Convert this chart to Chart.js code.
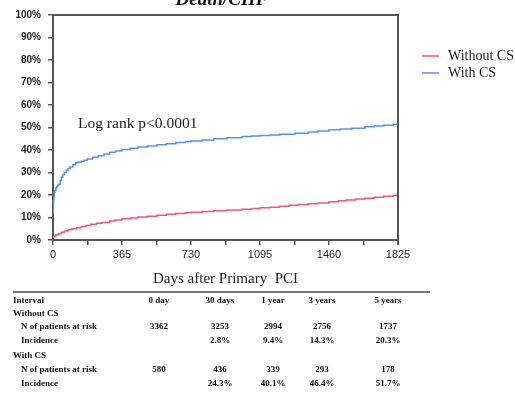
<!DOCTYPE html>
<html>
<head>
<meta charset="utf-8">
<script src="https://cdn.jsdelivr.net/npm/chart.js@4/dist/chart.umd.min.js"></script>
<style>
  body { margin: 0; background: #fff; }
  #wrap { position: relative; width: 515px; height: 393px; overflow: hidden; }
  #km { position: absolute; left: 0; top: 0; }
  .rule { position: absolute; left: 13px; top: 291px; width: 417px; height: 2px; background: #7a7a7a; }
  .t { position: absolute; font: bold 9px "Liberation Serif", serif; color: #111; white-space: nowrap; }
  .c { transform: translateX(-50%); }
</style>
</head>
<body>
<div id="wrap">
  <canvas id="km" width="515" height="292"></canvas>
  <div class="rule"></div>
  <div id="tbl"></div>
</div>
<script>
// cumulative incidence, %
const days_without = [0, 3, 8, 15, 22, 30, 45, 60, 80, 100, 125, 150, 175, 200, 230, 260, 300, 330, 365, 410, 450, 500, 550, 600, 650, 700, 730, 790, 850, 920, 1000, 1050, 1095, 1150, 1200, 1250, 1300, 1350, 1400, 1460, 1510, 1550, 1600, 1650, 1700, 1750, 1800, 1825];
const inc_without = [1.0, 1.4, 1.8, 2.2, 2.5, 2.8, 3.4, 4.0, 4.6, 5.0, 5.5, 6.0, 6.5, 7.0, 7.4, 7.8, 8.5, 8.9, 9.4, 9.8, 10.2, 10.6, 11.0, 11.4, 11.8, 12.1, 12.3, 12.7, 13.0, 13.3, 13.7, 14.0, 14.3, 14.6, 15.0, 15.4, 15.8, 16.1, 16.5, 17.0, 17.4, 17.8, 18.2, 18.6, 19.0, 19.5, 19.9, 20.3];
const days_with = [0, 1, 2, 3, 5, 7, 10, 15, 20, 25, 30, 38, 45, 52, 60, 70, 80, 90, 105, 120, 135, 150, 165, 180, 210, 240, 270, 300, 330, 365, 410, 450, 500, 550, 600, 650, 700, 730, 790, 850, 920, 1000, 1050, 1095, 1150, 1200, 1280, 1350, 1400, 1460, 1520, 1580, 1650, 1700, 1750, 1800, 1825];
const inc_with = [12.0, 14.5, 16.5, 18.0, 19.5, 21.0, 22.0, 23.0, 23.8, 24.3, 24.8, 26.5, 28.0, 29.0, 30.0, 31.0, 31.8, 32.5, 33.5, 34.3, 34.7, 35.0, 35.5, 36.0, 36.8, 37.5, 38.2, 39.0, 39.6, 40.2, 40.8, 41.3, 41.8, 42.3, 42.8, 43.3, 43.7, 44.0, 44.5, 45.0, 45.5, 46.0, 46.2, 46.4, 46.7, 47.0, 47.5, 48.0, 48.5, 49.0, 49.3, 49.7, 50.3, 50.7, 51.0, 51.4, 51.7];

const series_names = ["Without CS", "With CS"];
const series_colors = ["#f2557a", "#5b8ff0"];
const x_ticks = [0, 365, 730, 1095, 1460, 1825];

// risk table
const intervals = ["0 day", "30 days", "1 year", "3 years", "5 years"];
const risk_without = ["3362", "3253", "2994", "2756", "1737"];
const incid_without = ["", "2.8%", "9.4%", "14.3%", "20.3%"];
const risk_with = ["580", "436", "339", "293", "178"];
const incid_with = ["", "24.3%", "40.1%", "46.4%", "51.7%"];

function pts(xs, ys) {
  return xs.map((d, i) => ({ x: d, y: ys[i] }));
}

const extras = {
  id: "extras",
  afterDraw(chart) {
    const ctx = chart.ctx;
    const a = chart.chartArea;
    ctx.save();
    // top and right frame
    ctx.strokeStyle = "#555";
    ctx.lineWidth = 2;
    ctx.beginPath();
    ctx.moveTo(a.left, a.top);
    ctx.lineTo(a.right, a.top);
    ctx.lineTo(a.right, a.bottom + 5);
    ctx.stroke();
    // title, clipped at the top
    ctx.fillStyle = "#111";
    ctx.font = "bold italic 19px 'Liberation Serif', serif";
    ctx.textAlign = "center";
    ctx.textBaseline = "alphabetic";
    ctx.fillText("Death/CHF", 222, 5);
    // log rank text
    ctx.font = "15.5px 'Liberation Serif', serif";
    ctx.textAlign = "left";
    ctx.textBaseline = "middle";
    ctx.fillStyle = "#222";
    ctx.fillText("Log rank p<0.0001", 78, 124);
    // legend
    ctx.font = "14px 'Liberation Serif', serif";
    chart.data.datasets.forEach((ds, i) => {
      const y = 56 + i * 17;
      ctx.strokeStyle = ds.borderColor;
      ctx.lineWidth = 1.5;
      ctx.beginPath();
      ctx.moveTo(422, y);
      ctx.lineTo(439, y);
      ctx.stroke();
      ctx.fillStyle = "#222";
      ctx.fillText(ds.label, 448, y);
    });
    ctx.restore();
  }
};

const km_chart = new Chart(document.getElementById("km"), {
  type: "line",
  data: {
    datasets: [
      { label: series_names[0], data: pts(days_without, inc_without), borderColor: series_colors[0] },
      { label: series_names[1], data: pts(days_with, inc_with), borderColor: series_colors[1] },
    ],
  },
  options: {
    responsive: false,
    animation: false,
    layout: { padding: { top: 15, right: 117, left: 0, bottom: 0 } },
    elements: {
      line: { borderWidth: 1.5, stepped: true, fill: false },
      point: { radius: 0 },
    },
    plugins: {
      legend: { display: false },
      tooltip: { enabled: false },
    },
    scales: {
      x: {
        type: "linear",
        min: 0,
        max: 1825,
        afterFit: (s) => { s.height = 52; },
        afterBuildTicks: (s) => {
          s.ticks = [];
          for (let k = 0; k <= 10; k++) s.ticks.push({ value: k * 182.5 });
        },
        ticks: {
          autoSkip: false,
          maxRotation: 0,
          padding: 3,
          color: "#222",
          font: { family: "'Liberation Sans', Arial, sans-serif", size: 11 },
          callback: (v) => (x_ticks.includes(v) ? String(v) : ""),
        },
        grid: { drawOnChartArea: false, tickLength: 5, color: "#555", lineWidth: 1.5 },
        border: { color: "#555", width: 2 },
        title: {
          display: true,
          text: "Days after Primary  PCI",
          color: "#222",
          font: { family: "'Liberation Serif', serif", size: 15 },
          padding: { top: 0, bottom: 4 },
        },
      },
      y: {
        min: 0,
        max: 100,
        afterFit: (s) => { s.width = 53; },
        ticks: {
          stepSize: 10,
          padding: 7,
          color: "#222",
          font: { family: "'Liberation Sans', Arial, sans-serif", size: 10, weight: "bold" },
          callback: (v) => v + "%",
        },
        grid: { drawOnChartArea: false, tickLength: 5, color: "#555", lineWidth: 1.5 },
        border: { color: "#555", width: 2 },
      },
    },
  },
  plugins: [extras],
});

// risk table below the chart
const tbl = document.getElementById("tbl");
const col_x = [159, 220, 273, 322, 388];
function put(text, x, y, center) {
  const d = document.createElement("div");
  d.className = center ? "t c" : "t";
  d.textContent = text;
  d.style.left = x + "px";
  d.style.top = (y - 6) + "px";
  tbl.appendChild(d);
}
put("Interval", 13, 301);
intervals.forEach((s, i) => put(s, col_x[i], 301, true));
put("Without CS", 13, 314);
put("N of patients at risk", 21, 327);
risk_without.forEach((s, i) => put(s, col_x[i], 327, true));
put("Incidence", 21, 341);
incid_without.forEach((s, i) => put(s, col_x[i], 341, true));
put("With CS", 13, 356);
put("N of patients at risk", 21, 370);
risk_with.forEach((s, i) => put(s, col_x[i], 370, true));
put("Incidence", 21, 384);
incid_with.forEach((s, i) => put(s, col_x[i], 384, true));
</script>
</body>
</html>
